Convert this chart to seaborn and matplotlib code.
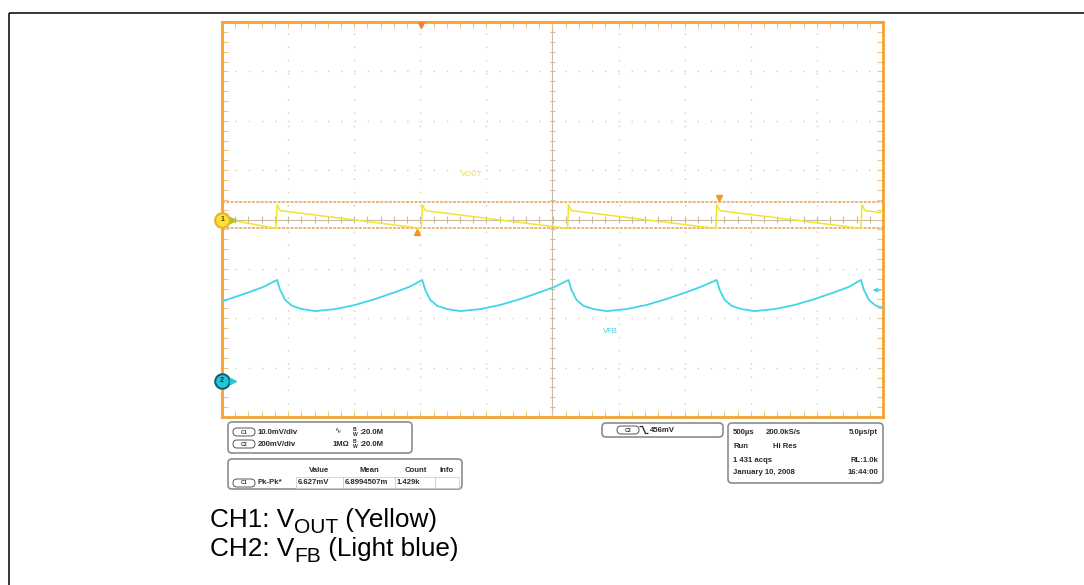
import numpy as np
import pandas as pd
import matplotlib
matplotlib.use("Agg")
import matplotlib.pyplot as plt
import seaborn as sns
from matplotlib.patches import FancyBboxPatch, Rectangle

# ---- scope settings -------------------------------------------------------
TIME_PER_DIV_US = 500.0
CH1_MV_PER_DIV = 10.0
CH2_MV_PER_DIV = 200.0
CH1_OFFSET_DIV = 0.0
CH2_OFFSET_DIV = -3.27
CURSOR_MV = [3.6, -1.7]

# ---- CH1: output ripple (time in us, level in mV) -------------------------
vout_t_us = [-2500, -2091, -2083, -2061, -992, -985, -962, 114, 121, 144,
             1235, 1242, 1265, 2333, 2341, 2364, 2500]
vout_mv = [0.2, -1.8, 3.0, 1.8, -1.8, 3.0, 1.8, -1.8, 3.0, 1.8,
           -1.8, 3.0, 1.8, -1.8, 3.0, 1.8, 1.35]

# ---- CH2: feedback pin (time in us, level in mV) --------------------------
vfb_t_us = [-2500, -2293, -2187, -2083,
            -2060, -2022, -1969, -1894, -1795, -1644, -1492, -1341, -1189, -1083, -985,
            -962, -924, -871, -796, -697, -546, -394, -243, -91, 15, 121,
            144, 182, 235, 310, 409, 560, 712, 863, 1015, 1121, 1242,
            1265, 1303, 1356, 1431, 1530, 1681, 1833, 1984, 2136, 2242, 2333,
            2356, 2394, 2447, 2500]
vfb_mv = [322, 360, 381, 409,
          368, 328, 304, 291, 283, 291, 308, 332, 360, 381, 409,
          368, 328, 304, 291, 283, 291, 308, 332, 360, 381, 409,
          368, 328, 304, 291, 283, 291, 308, 332, 360, 381, 409,
          368, 328, 304, 291, 283, 291, 308, 332, 360, 381, 409,
          368, 328, 304, 296]

# ---- readout panels --------------------------------------------------------
ch_rows = [("C1", "10.0mV/div", "\u223f"), ("C2", "200mV/div", "1M\u03a9")]
bandwidth = "20.0M"
meas_headers = ["Value", "Mean", "Count", "Info"]
meas_row = ["Pk-Pk*", "6.627mV", "6.8994507m", "1.429k", ""]
trigger_level = "456mV"
acq_lines = [("500\u00b5s", "200.0kS/s", "5.0\u00b5s/pt"),
             ("Run", "Hi Res", ""),
             ("1 431 acqs", "", "RL:1.0k"),
             ("January 10, 2008", "", "16:44:00")]
caption_lines = [("CH1: V", "OUT", " (Yellow)"), ("CH2: V", "FB", " (Light blue)")]

W, H, DPI = 1084, 585, 100

sns.set_theme(style="white")
plt.rcParams["font.family"] = ["Liberation Sans", "DejaVu Sans"]

fig = plt.figure(figsize=(W / DPI, H / DPI), dpi=DPI)
fig.patch.set_facecolor("white")

# overlay in pixel units for frame, panels and captions
ov = fig.add_axes([0, 0, 1, 1])
ov.set_xlim(0, W)
ov.set_ylim(H, 0)
ov.axis("off")
ov.patch.set_alpha(0)

# screen axes in divisions
ax = fig.add_axes([222 / W, 1 - 417 / H, 661 / W, 395 / H])
ax.set_xlim(-5, 5)
ax.set_ylim(-4, 4)
ax.set_facecolor("white")

ORANGE = "#f6a232"
GRID = "#d9c9ae"
for s in ax.spines.values():
    s.set_color(ORANGE)
    s.set_linewidth(2.0)

ax.set_xticks(np.arange(-5, 6, 1))
ax.set_yticks(np.arange(-4, 5, 1))
ax.set_xticks(np.arange(-5, 5.01, 0.2), minor=True)
ax.set_yticks(np.arange(-4, 4.01, 0.2), minor=True)
ax.tick_params(which="both", direction="in", length=4, width=0.8, color="#efc48a",
               top=True, right=True, bottom=True, left=True,
               labelbottom=False, labelleft=False)

dots = (0, (1.0, 8.5))
for gx in range(-4, 5):
    if gx != 0:
        ax.axvline(gx, color=GRID, lw=1.0, ls=dots, zorder=0)
for gy in range(-3, 4):
    if gy != 0:
        ax.axhline(gy, color=GRID, lw=1.0, ls=dots, zorder=0)
ax.axvline(0, color="#cbbb9f", lw=0.8, zorder=0)
ax.axhline(0, color="#cbbb9f", lw=0.8, zorder=0)
minor_x = np.arange(-5, 5.01, 0.2)
minor_y = np.arange(-4, 4.01, 0.2)
ax.vlines(minor_x, -0.065, 0.065, color="#cbbb9f", lw=0.8, zorder=0)
ax.hlines(minor_y, -0.045, 0.045, color="#cbbb9f", lw=0.8, zorder=0)

# cursors
for c in CURSOR_MV:
    ax.axhline(c / CH1_MV_PER_DIV + CH1_OFFSET_DIV, color="#dfa45e", lw=1.1,
               ls=(0, (2, 0.8)), zorder=1)

# traces
df1 = pd.DataFrame({"t": np.array(vout_t_us) / TIME_PER_DIV_US,
                    "v": np.array(vout_mv) / CH1_MV_PER_DIV + CH1_OFFSET_DIV})
df2 = pd.DataFrame({"t": np.array(vfb_t_us) / TIME_PER_DIV_US,
                    "v": np.array(vfb_mv) / CH2_MV_PER_DIV + CH2_OFFSET_DIV})
sns.lineplot(data=df1, x="t", y="v", sort=False, estimator=None, color="#efe530",
             lw=1.1, ax=ax, zorder=3)
sns.lineplot(data=df2, x="t", y="v", sort=False, estimator=None, color="#3fd6e6",
             lw=1.3, ax=ax, zorder=3)
ax.set_xlabel("")
ax.set_ylabel("")

# trigger position and cursor handles
ax.plot([vout_t_us[4] / TIME_PER_DIV_US], [3.93], marker="v", ms=5, color="#f07f3a",
        clip_on=False, zorder=5)
ax.plot([-2.045], [-0.25], marker="^", ms=5, color="#f5951f", clip_on=False, zorder=5)
ax.plot([2.515], [0.435], marker="v", ms=5, color="#f5951f", clip_on=False, zorder=5)

# channel ground markers
ax.plot([-5], [CH1_OFFSET_DIV], marker="o", ms=10.5, mfc="#f8e436", mec="#f0b030",
        mew=1.6, clip_on=False, zorder=6)
ax.text(-5, CH1_OFFSET_DIV, "1", fontsize=5, ha="center", va="center",
        color="#4a4000", zorder=7, fontweight="bold")
ax.plot([-4.83], [CH1_OFFSET_DIV], marker=">", ms=4, color="#b9c02a", clip_on=False,
        zorder=6)
ax.plot([-5], [CH2_OFFSET_DIV], marker="o", ms=10.5, mfc="#26c4d6", mec="#0c5d6b",
        mew=1.4, clip_on=False, zorder=6)
ax.text(-5, CH2_OFFSET_DIV, "2", fontsize=5, ha="center", va="center",
        color="#06343c", zorder=7, fontweight="bold")
ax.plot([-4.83], [CH2_OFFSET_DIV], marker=">", ms=4, color="#2cc6d8", clip_on=False,
        zorder=6)

# trigger level arrow for CH2
ax.annotate("", xy=(4.8, -1.43), xytext=(5.0, -1.43),
            arrowprops=dict(arrowstyle="-|>", color="#3fd6e6", lw=1.0,
                            mutation_scale=6), zorder=6)

# trace labels
ax.text(-1.39, 0.92, "VOUT", fontsize=5.5, color="#e6e040", va="center", ha="left")
ax.text(0.77, -2.26, "VFB", fontsize=5.5, color="#40d0e0", va="center", ha="left")

# ---- page frame --------------------------------------------------------------
ov.add_patch(Rectangle((9, 13), 1200, 800, fill=False, ec="black", lw=1.1))

# ---- readout panels ----------------------------------------------------------
TXT = dict(fontsize=5.6, fontweight="bold", color="#2a2a2a", va="center")
BOX_EC = "#8c8c8c"


def panel(x0, y0, x1, y1):
    ov.add_patch(FancyBboxPatch((x0, y0), x1 - x0, y1 - y0,
                                boxstyle="round,pad=0,rounding_size=4",
                                fc="white", ec=BOX_EC, lw=1.2))


def pill(x0, yc, label):
    ov.add_patch(FancyBboxPatch((x0, yc - 4), 22, 8,
                                boxstyle="round,pad=0,rounding_size=4",
                                fc="white", ec="#555555", lw=0.7))
    ov.text(x0 + 11, yc, label, fontsize=3.8, ha="center", va="center",
            color="#333333", fontweight="bold")


panel(228, 422, 412, 453)
for (ch, scale, coup), yc in zip(ch_rows, [432, 444]):
    pill(233, yc, ch)
    ov.text(258, yc, scale, ha="left", **TXT)
    if coup == "\u223f":
        ov.text(334, yc, coup, ha="left", fontsize=5.5, color="#2a2a2a", va="center")
    else:
        ov.text(333, yc, coup, ha="left", **TXT)
    ov.text(353, yc - 2.2, "B", ha="left", fontsize=3.6, fontweight="bold",
            color="#2a2a2a", va="center")
    ov.text(353, yc + 2.2, "W", ha="left", fontsize=3.6, fontweight="bold",
            color="#2a2a2a", va="center")
    ov.text(359.5, yc, ":" + bandwidth, ha="left", **TXT)

panel(228, 459, 462, 489)
for hdr, xc in zip(meas_headers, [319, 369, 416, 447]):
    ov.text(xc, 470, hdr, ha="center", **TXT)
cell_edges = [296, 343, 395, 435, 459]
for xa, xb in zip(cell_edges[:-1], cell_edges[1:]):
    ov.add_patch(Rectangle((xa, 477), xb - xa, 11, fill=False, ec="#d0d0d0", lw=0.6))
pill(233, 483, "C1")
ov.text(258, 483, meas_row[0], ha="left", **TXT)
for val, xa in zip(meas_row[1:], cell_edges[:-1]):
    ov.text(xa + 2, 483, val, ha="left", **TXT)

panel(602, 423, 723, 437)
pill(617, 430, "C2")
ov.plot([640, 642.5, 645.5, 648], [426.5, 426.5, 433.5, 433.5], color="#222222",
        lw=0.9, solid_joinstyle="miter")
ov.text(650, 430, trigger_level, ha="left", **TXT)

panel(728, 423, 883, 483)
acq_y = [432, 446, 460, 473]
for (a, b, c), yc in zip(acq_lines, acq_y):
    ov.text(733, yc, a, ha="left", **TXT)
    if b:
        ov.text(766 if yc == 432 else 773, yc, b, ha="left", **TXT)
    if c:
        ov.text(878, yc, c, ha="right", **TXT)

# ---- caption ---------------------------------------------------------------
renderer = fig.canvas.get_renderer()
CAP_SIZE = 18.8
for (pre, sub, post), base in zip(caption_lines, [527, 556]):
    cx = 210
    for txt, scale, dy in [(pre, 1.0, 0), (sub, 0.8, 6), (post, 1.0, 0)]:
        t = ov.text(cx, base + dy, txt, fontsize=CAP_SIZE * scale, ha="left",
                    va="baseline", color="black")
        cx = t.get_window_extent(renderer).x1

fig.savefig("out.png", dpi=DPI, facecolor="white")
